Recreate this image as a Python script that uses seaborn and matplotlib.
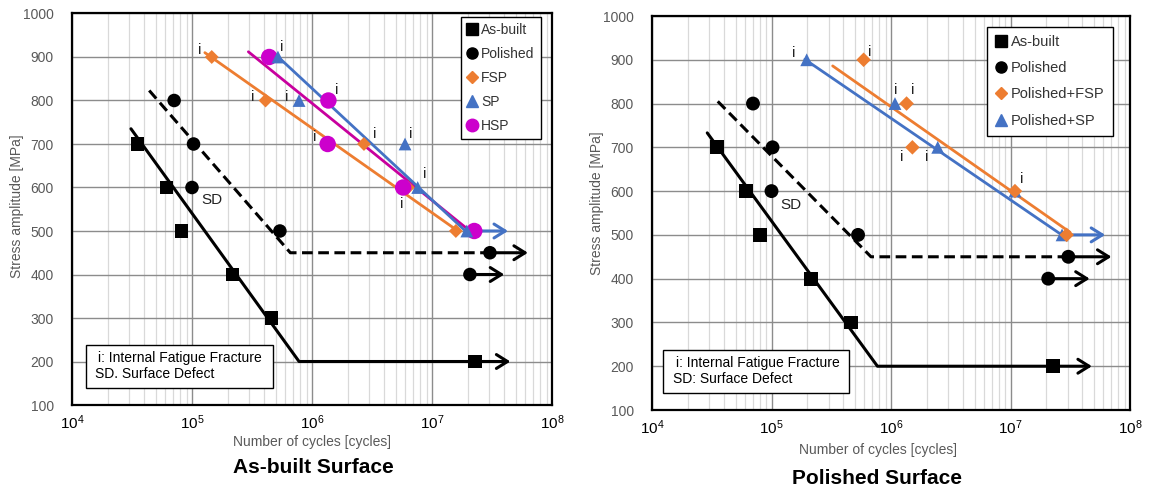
import numpy as np
import pandas as pd
import seaborn as sns
import matplotlib
matplotlib.use("Agg")
import matplotlib.pyplot as plt
from matplotlib.lines import Line2D
from matplotlib.patches import Rectangle
from matplotlib.ticker import LogLocator, FixedLocator, NullFormatter

# ---------------- data: As-built Surface (left) ----------------
L_asbuilt_N = [3.5e4, 6.15e4, 8.2e4, 2.17e5, 4.58e5, 2.28e7]
L_asbuilt_S = [700, 600, 500, 400, 300, 200]
L_polished_N = [7.1e4, 1.03e5, 1.0e5, 5.4e5, 3.04e7, 2.07e7]
L_polished_S = [800, 700, 600, 500, 450, 400]
L_fsp_N = [1.46e5, 4.1e5, 2.71e6, 6.3e6, 1.58e7]
L_fsp_S = [900, 800, 700, 600, 500]
L_sp_N = [5.2e5, 7.8e5, 5.96e6, 7.6e6, 1.95e7]
L_sp_S = [900, 800, 700, 600, 500]
L_hsp_N = [4.4e5, 1.37e6, 1.35e6, 5.75e6, 2.25e7]
L_hsp_S = [900, 800, 700, 600, 500]

# trend lines (left)
L_asbuilt_line_N = [3.1e4, 7.8e5, 2.28e7]
L_asbuilt_line_S = [735, 200, 200]
L_polished_line_N = [4.4e4, 6.6e5, 3.04e7]
L_polished_line_S = [823, 450, 450]
L_fsp_line_N = [1.28e5, 1.55e7]
L_fsp_line_S = [910, 505]
L_sp_line_N = [4.7e5, 1.9e7]
L_sp_line_S = [912, 500]
L_hsp_line_N = [2.95e5, 2.07e7]
L_hsp_line_S = [912, 500]

# run-out arrows (left): start N, end N, stress, color
L_arrow_start = [2.28e7, 3.04e7, 2.07e7, 2.25e7]
L_arrow_end = [4.5e7, 6.3e7, 4.0e7, 4.3e7]
L_arrow_S = [200, 450, 400, 500]
L_arrow_color = ["black", "black", "black", "#4472C4"]

# "i" labels (left)
L_i_N = [1.17e5, 3.22e5, 6.19e5, 5.62e5, 1.62e6, 1.06e6, 3.35e6, 6.68e6, 8.75e6, 5.62e6]
L_i_S = [916, 807, 807, 923, 823, 715, 724, 724, 632, 563]
L_sd_N, L_sd_S = 1.47e5, 572

# ---------------- data: Polished Surface (right) ----------------
R_asbuilt_N = [3.5e4, 6.1e4, 8.0e4, 2.14e5, 4.6e5, 2.27e7]
R_asbuilt_S = [700, 600, 500, 400, 300, 200]
R_polished_N = [7.0e4, 1.02e5, 1.0e5, 5.3e5, 3.05e7, 2.07e7]
R_polished_S = [800, 700, 600, 500, 450, 400]
R_pfsp_N = [5.9e5, 1.35e6, 1.51e6, 1.09e7, 2.95e7]
R_pfsp_S = [900, 800, 700, 600, 500]
R_psp_N = [1.97e5, 1.08e6, 2.46e6, 1.09e7, 2.7e7]
R_psp_S = [900, 800, 700, 600, 500]

R_asbuilt_line_N = [2.9e4, 7.7e5, 2.27e7]
R_asbuilt_line_S = [733, 200, 200]
R_polished_line_N = [3.55e4, 6.8e5, 3.05e7]
R_polished_line_S = [805, 450, 450]
R_pfsp_line_N = [3.25e5, 3.15e7]
R_pfsp_line_S = [886, 506]
R_psp_line_N = [1.9e5, 2.75e7]
R_psp_line_S = [901, 498]

R_arrow_start = [2.27e7, 3.05e7, 2.07e7, 2.75e7]
R_arrow_end = [4.8e7, 7.0e7, 4.6e7, 6.2e7]
R_arrow_S = [200, 450, 400, 500]
R_arrow_color = ["black", "black", "black", "#4472C4"]

R_i_N = [1.54e5, 6.67e5, 1.1e6, 1.51e6, 1.23e6, 2.0e6, 1.24e7]
R_i_S = [916, 918, 832, 832, 677, 677, 627]
R_sd_N, R_sd_S = 1.46e5, 568

# ---------------- styling ----------------
sns.set_theme(style="white")
plt.rcParams["font.family"] = ["Liberation Sans", "DejaVu Sans"]
plt.rcParams["mathtext.fontset"] = "custom"
plt.rcParams["mathtext.rm"] = "Liberation Sans"
plt.rcParams["mathtext.it"] = "Liberation Sans"
plt.rcParams["mathtext.bf"] = "Liberation Sans:bold"

ORANGE = "#ED7D31"
BLUE = "#4472C4"
MAGENTA = "#CC00CC"
MAGENTA_LINE = "#C8009E"
GRAYTXT = "#595959"

W, H = 1149, 486
fig = plt.figure(figsize=(W / 100, H / 100), dpi=100)

def px_axes(x0, x1, ytop, ybot):
    return fig.add_axes([x0 / W, (H - ybot) / H, (x1 - x0) / W, (ybot - ytop) / H])

axL = px_axes(72, 552, 13.5, 405)
axR = px_axes(652, 1130, 16, 410)


def setup(ax):
    ax.set_xscale("log")
    ax.set_xlim(1e4, 1e8)
    ax.set_ylim(100, 1000)
    ax.xaxis.set_major_locator(LogLocator(base=10, numticks=10))
    ax.xaxis.set_minor_locator(LogLocator(base=10, subs=np.arange(2, 10), numticks=100))
    ax.xaxis.set_minor_formatter(NullFormatter())
    ax.yaxis.set_major_locator(FixedLocator(np.arange(100, 1001, 100)))
    ax.grid(which="minor", axis="x", color="#d9d9d9", lw=0.9, zorder=0)
    ax.grid(which="major", axis="both", color="#8c8c8c", lw=1.0, zorder=0)
    ax.set_axisbelow(True)
    for s in ax.spines.values():
        s.set_color("black")
        s.set_linewidth(1.6)
    ax.tick_params(axis="x", which="both", length=0, pad=6, labelsize=11, labelcolor="black")
    ax.tick_params(axis="y", which="both", length=0, pad=13, labelsize=10, labelcolor=GRAYTXT)


def line(ax, xs, ys, color, lw=2.2, ls="-", z=3):
    df = pd.DataFrame({"N": xs, "S": ys})
    sns.lineplot(data=df, x="N", y="S", ax=ax, color=color, lw=lw, linestyle=ls,
                 sort=False, estimator=None, zorder=z, legend=False)


def pts(ax, xs, ys, marker, color, s, z=4):
    df = pd.DataFrame({"N": xs, "S": ys})
    sns.scatterplot(data=df, x="N", y="S", ax=ax, marker=marker, color=color, s=s,
                    edgecolor="none", linewidth=0, zorder=z, legend=False)


def arrows(ax, starts, ends, ss, colors):
    for a, b, s, c in zip(starts, ends, ss, colors):
        ax.annotate("", xy=(b, s), xytext=(a, s),
                    arrowprops=dict(arrowstyle="->,head_length=0.8,head_width=0.5",
                                    color=c, lw=2.2, shrinkA=0, shrinkB=0,
                                    mutation_scale=10), zorder=3)


def ilabels(ax, ns, ss):
    for n, s in zip(ns, ss):
        ax.text(n, s, "i", ha="center", va="center", fontsize=11, color="#222222", zorder=6)


DASH = (0, (3.5, 1.8))

# ---- left panel ----
setup(axL)
line(axL, L_asbuilt_line_N, L_asbuilt_line_S, "black")
line(axL, L_polished_line_N, L_polished_line_S, "black", ls=DASH)
line(axL, L_fsp_line_N, L_fsp_line_S, ORANGE, lw=2.0)
line(axL, L_hsp_line_N, L_hsp_line_S, MAGENTA_LINE, lw=2.0)
line(axL, L_sp_line_N, L_sp_line_S, BLUE, lw=2.0)
arrows(axL, L_arrow_start, L_arrow_end, L_arrow_S, L_arrow_color)
pts(axL, L_asbuilt_N, L_asbuilt_S, "s", "black", 95)
pts(axL, L_polished_N, L_polished_S, "o", "black", 95)
pts(axL, L_fsp_N, L_fsp_S, "D", ORANGE, 50)
pts(axL, L_hsp_N, L_hsp_S, "o", MAGENTA, 140)
pts(axL, L_sp_N, L_sp_S, "^", BLUE, 85)
ilabels(axL, L_i_N, L_i_S)
axL.text(L_sd_N, L_sd_S, "SD", ha="center", va="center", fontsize=11, color="#222222")

hL = [
    Line2D([], [], ls="none", marker="s", color="black", markersize=8),
    Line2D([], [], ls="none", marker="o", color="black", markersize=8),
    Line2D([], [], ls="none", marker="D", color=ORANGE, markersize=6),
    Line2D([], [], ls="none", marker="^", color=BLUE, markersize=8),
    Line2D([], [], ls="none", marker="o", color=MAGENTA, markersize=9),
]
legL = axL.legend(hL, ["As-built", "Polished", "FSP", "SP", "HSP"],
                  loc="upper right", bbox_to_anchor=(0.977, 0.992), fontsize=10,
                  labelspacing=0.72, handlelength=0.8, handletextpad=0.25,
                  borderpad=0.45, borderaxespad=0, frameon=True, fancybox=False,
                  framealpha=1, labelcolor="#333333")
legL.get_frame().set_edgecolor("black")
legL.get_frame().set_linewidth(1.0)
legL.set_zorder(10)

axL.add_patch(Rectangle((0.029, 0.043), 0.39, 0.11, transform=axL.transAxes,
                        facecolor="white", edgecolor="black", lw=1.0, zorder=8))
axL.text(0.055, 0.12, "i: Internal Fatigue Fracture", transform=axL.transAxes,
         ha="left", va="center", fontsize=10, color="black", zorder=9)
axL.text(0.048, 0.078, "SD. Surface Defect", transform=axL.transAxes,
         ha="left", va="center", fontsize=10, color="black", zorder=9)

# ---- right panel ----
setup(axR)
line(axR, R_asbuilt_line_N, R_asbuilt_line_S, "black")
line(axR, R_polished_line_N, R_polished_line_S, "black", ls=DASH)
line(axR, R_pfsp_line_N, R_pfsp_line_S, ORANGE, lw=2.0)
line(axR, R_psp_line_N, R_psp_line_S, BLUE, lw=2.0)
arrows(axR, R_arrow_start, R_arrow_end, R_arrow_S, R_arrow_color)
pts(axR, R_asbuilt_N, R_asbuilt_S, "s", "black", 100)
pts(axR, R_polished_N, R_polished_S, "o", "black", 100)
pts(axR, R_psp_N, R_psp_S, "^", BLUE, 85)
pts(axR, R_pfsp_N, R_pfsp_S, "D", ORANGE, 55)
ilabels(axR, R_i_N, R_i_S)
axR.text(R_sd_N, R_sd_S, "SD", ha="center", va="center", fontsize=11, color="#222222")

hR = [
    Line2D([], [], ls="none", marker="s", color="black", markersize=8),
    Line2D([], [], ls="none", marker="o", color="black", markersize=8),
    Line2D([], [], ls="none", marker="D", color=ORANGE, markersize=6),
    Line2D([], [], ls="none", marker="^", color=BLUE, markersize=8),
]
legR = axR.legend(hR, ["As-built", "Polished", "Polished+FSP", "Polished+SP"],
                  loc="upper right", bbox_to_anchor=(0.964, 0.973), fontsize=10.5,
                  labelspacing=0.85, handlelength=0.8, handletextpad=0.3,
                  borderpad=0.55, borderaxespad=0, frameon=True, fancybox=False,
                  framealpha=1, labelcolor="#333333")
legR.get_frame().set_edgecolor("black")
legR.get_frame().set_linewidth(1.0)
legR.set_zorder(10)

axR.add_patch(Rectangle((0.023, 0.043), 0.389, 0.109, transform=axR.transAxes,
                        facecolor="white", edgecolor="black", lw=1.0, zorder=8))
axR.text(0.05, 0.12, "i: Internal Fatigue Fracture", transform=axR.transAxes,
         ha="left", va="center", fontsize=10, color="black", zorder=9)
axR.text(0.044, 0.078, "SD: Surface Defect", transform=axR.transAxes,
         ha="left", va="center", fontsize=10, color="black", zorder=9)

# clear seaborn's automatic axis labels (real labels placed below)
for ax in (axL, axR):
    ax.set_xlabel("")
    ax.set_ylabel("")

# ---- axis labels & titles (figure pixel positions) ----
def ftext(x, y, s, **kw):
    fig.text(x / W, 1 - y / H, s, ha="center", va="center", **kw)

ftext(312, 442, "Number of cycles [cycles]", fontsize=10, color=GRAYTXT)
ftext(878, 450, "Number of cycles [cycles]", fontsize=10, color=GRAYTXT)
ftext(313, 467, "As-built Surface", fontsize=15, fontweight="bold", color="black")
ftext(877, 478, "Polished Surface", fontsize=15, fontweight="bold", color="black")
ftext(17, 206, "Stress amplitude [MPa]", fontsize=10, color=GRAYTXT, rotation=90)
ftext(597, 203, "Stress amplitude [MPa]", fontsize=10, color=GRAYTXT, rotation=90)

fig.savefig("out.png", dpi=100, facecolor="white")
